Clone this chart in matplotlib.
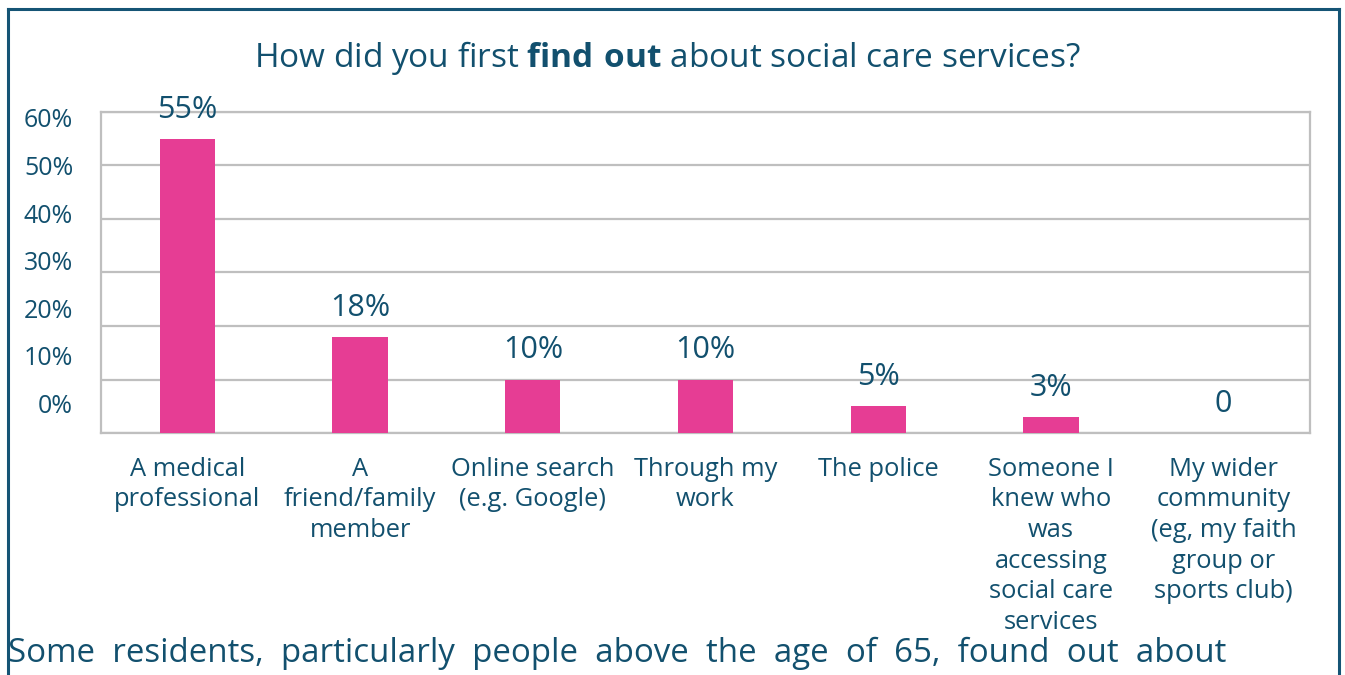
import matplotlib.pyplot as plt
from matplotlib.lines import Line2D

plt.rcParams["font.family"] = ["Open Sans", "DejaVu Sans"]
plt.rcParams["mathtext.fontset"] = "custom"
plt.rcParams["mathtext.rm"] = "Open Sans"
plt.rcParams["mathtext.bf"] = "Open Sans:bold"

categories = [
    "A medical\nprofessional",
    "A\nfriend/family\nmember",
    "Online search\n(e.g. Google)",
    "Through my\nwork",
    "The police",
    "Someone I\nknew who\nwas\naccessing\nsocial care\nservices",
    "My wider\ncommunity\n(eg, my faith\ngroup or\nsports club)",
]
shares = [55, 18, 10, 10, 5, 3, 0]
value_labels = ["55%", "18%", "10%", "10%", "5%", "3%", "0"]
tick_values = [0, 10, 20, 30, 40, 50, 60]
tick_labels = ["0%", "10%", "20%", "30%", "40%", "50%", "60%"]

TEXT = "#12506E"
BORDER = "#155475"
PINK = "#E63D94"
GRID = "#BFBFBF"

W, H = 1345, 675
fig = plt.figure(figsize=(W / 100, H / 100), dpi=100)

# box around the chart
for xs, ys in [((8, 1339), (9, 9)), ((8, 8), (9, 675)), ((1339, 1339), (9, 675))]:
    fig.add_artist(Line2D([x / W for x in xs], [1 - y / H for y in ys],
                          color=BORDER, lw=2.2, transform=fig.transFigure))

ax = fig.add_axes([101 / W, 1 - 433 / H, 1209 / W, 321 / H])
x = range(len(categories))
ax.bar(x, shares, width=0.32, color=PINK, zorder=3)
ax.set_xlim(-0.5, len(categories) - 0.5)
ax.set_ylim(0, 60)

ax.set_yticks(tick_values)
ax.set_yticklabels([])
ax.grid(axis="y", color=GRID, lw=1.6, zorder=0)
for s in ax.spines.values():
    s.set_color(GRID)
    s.set_linewidth(1.6)

# the percentage labels sit a little off the gridlines
label_pos = [5.6 + i * 8.88 for i in range(len(tick_labels))]
ax.yaxis.remove_overlapping_locs = False
ax.set_yticks(label_pos, minor=True)
ax.set_yticklabels(tick_labels, minor=True, fontsize=18, color=TEXT)
ax.tick_params(axis="y", which="both", length=0, pad=20)

ax.set_xticks(list(x))
ax.set_xticklabels(categories, fontsize=18.4, color=TEXT, linespacing=1.3)
ax.tick_params(axis="x", length=0, pad=17)

for i, (v, lab) in enumerate(zip(shares, value_labels)):
    ax.annotate(lab, (i, v), xytext=(0, 21), textcoords="offset points",
                ha="center", va="center", fontsize=22, color=TEXT)

fig.text(667 / W, 1 - 58 / H,
         r"How did you first $\bf{find\ out}$ about social care services?",
         ha="center", va="center", fontsize=24, color=TEXT)

fig.text(8 / W, 1 - 653 / H,
         "Some  residents,  particularly  people  above  the  age  of  65,  found  out  about",
         ha="left", va="center", fontsize=23.8, color=TEXT)

fig.savefig("out.png", dpi=100)
